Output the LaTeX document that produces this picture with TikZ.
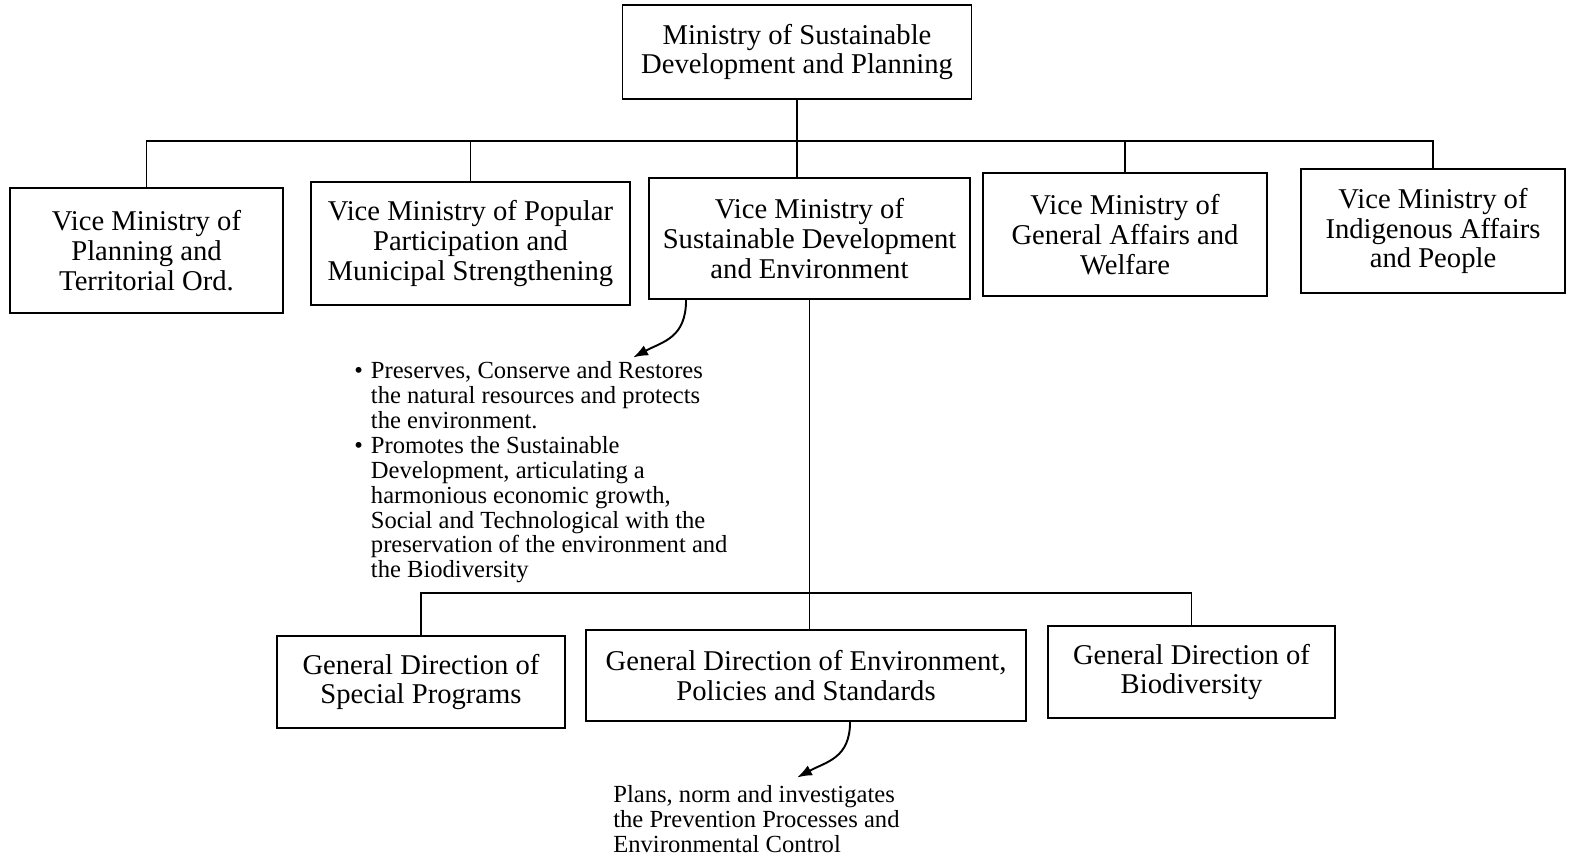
\documentclass[tikz,border=0pt]{standalone}
\usepackage{fontspec}
\setmainfont{Liberation Serif}
\usetikzlibrary{calc,arrows.meta}

\begin{document}
\begin{tikzpicture}[x=0.02cm,y=-0.02cm]
\tikzstyle{unit}=[draw,line width=1.1pt,align=center,inner sep=0pt,font=\fontsize{16.3}{17}\selectfont]
\tikzstyle{duty}=[inner sep=0pt,anchor=north west,align=left,font=\fontsize{14}{14.2}\selectfont]
\tikzstyle{link}=[line width=1.1pt]
\tikzstyle{arr}=[line width=1.1pt,-{Latex[length=0.3cm,width=0.22cm]}]
\useasboundingbox (0,0) rectangle (1569,863);
\foreach \name/\point/\bw/\bh/\txt in {
	msdp/{797,52}/349/94/{Ministry of Sustainable\\Development and Planning},
	vm1/{146.5,250.5}/273/125/{Vice Ministry of\\Planning and\\Territorial Ord.},
	vm2/{470.5,243.5}/319/123/{Vice Ministry of Popular\\Participation and\\Municipal Strengthening},
	vm3/{809.5,238.5}/321/121/{Vice Ministry of\\Sustainable Development\\and Environment},
	vm4/{1125,234.5}/284/123/{Vice Ministry of\\General Affairs and\\Welfare},
	vm5/{1433,231}/264/124/{Vice Ministry of\\Indigenous Affairs\\and People},
	gd1/{421,682}/288/92/{General Direction of\\Special Programs},
	gd2/{806,675.5}/440/91/{General Direction of Environment,\\Policies and Standards},
	gd3/{1191.5,672}/287/92/{General Direction of\\Biodiversity}}
	\node[unit,minimum width=\bw*0.02cm,minimum height=\bh*0.02cm] (\name) at (\point) {\txt};
\coordinate (bus) at (797,141);
\coordinate (bus2) at (809.5,593);
\draw[link] (msdp.south) -- (msdp.south |- vm3.north);
\draw[link] (vm1.north) |- (bus) -| (vm5.north);
\draw[link] (vm2.north) -- (vm2.north |- bus);
\draw[link] (vm4.north) -- (vm4.north |- bus);
\draw[link] (vm3.south) -- (vm3.south |- gd2.north);
\draw[link] (gd1.north) |- (bus2) -| (gd3.north);
\node[duty] (envtasks) at (354,360.5) {\begin{tabular}{@{}l@{\hspace{0.16cm}}l@{}}
\textbullet & Preserves, Conserve and Restores\\
 & the natural resources and protects\\
 & the environment.\\
\textbullet & Promotes the Sustainable\\
 & Development, articulating a\\
 & harmonious economic growth,\\
 & Social and Technological with the\\
 & preservation of the environment and\\
 & the Biodiversity
\end{tabular}};
\node[duty] (gdtasks) at (613,785.5) {Plans, norm and investigates\\the Prevention Processes and\\Environmental Control};
\draw[arr] ($(vm3.south west)+(38,0)$) .. controls +(0,38) and +(30,-16) .. ($(envtasks.north west)+(279,-3)$);
\draw[arr] ($(gd2.south west)+(265,0)$) .. controls +(0,36) and +(30,-16) .. ($(gdtasks.north west)+(184,-8)$);
\end{tikzpicture}
\end{document}
